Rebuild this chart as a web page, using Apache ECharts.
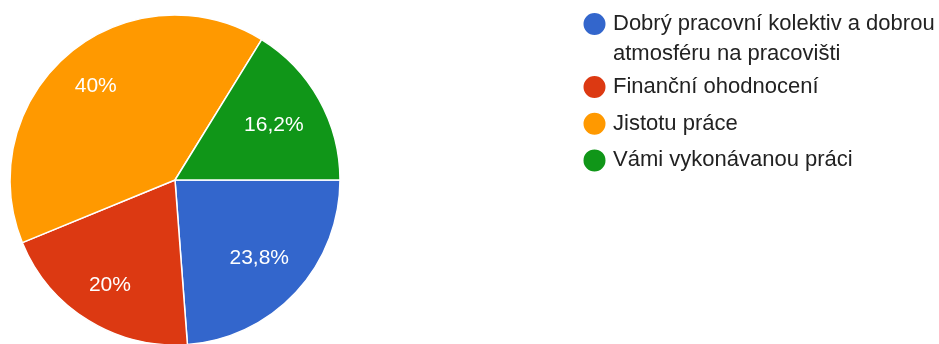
<!DOCTYPE html>
<html>
<head>
<meta charset="utf-8">
<script src="https://cdn.jsdelivr.net/npm/echarts@6/dist/echarts.min.js"></script>
<style>
  html, body { margin: 0; padding: 0; background: #ffffff; }
  #chart { width: 939px; height: 344px; }
</style>
</head>
<body>
<div id="chart"></div>
<script>
// Survey answers and their shares in percent
const categories = [
  'Dobrý pracovní kolektiv a dobrou atmosféru na pracovišti',
  'Finanční ohodnocení',
  'Jistotu práce',
  'Vámi vykonávanou práci'
];
const shares = [23.8, 20, 40, 16.2];
const palette = ['#3366cc', '#dc3912', '#ff9900', '#109618'];

const FONT = '"Liberation Sans", Arial, sans-serif';
const CX = 175, CY = 180, RADIUS = 165;
// labels sit on the slice bisector, pushed out until the outer corner of
// the text box reaches this radius
const LABEL_CORNER_R = 0.875 * RADIUS;

const pieData = categories.map((name, i) => ({ name, value: shares[i] }));
const pctLabel = p => String(p.value).replace('.', ',') + '%';

// mid angle of each slice (clockwise from 3 o'clock, screen coordinates)
const total = shares.reduce((a, b) => a + b, 0);
const midAngles = [];
shares.reduce((acc, v) => {
  midAngles.push((acc + v / 2) / total * Math.PI * 2);
  return acc + v;
}, 0);

function placeLabel(params) {
  const a = midAngles[params.dataIndex];
  const c = Math.cos(a), s = Math.sin(a);
  const w = params.labelRect.width, h = params.labelRect.height;
  const B = Math.abs(c) * w + Math.abs(s) * h;
  const C = (w * w + h * h) / 4 - LABEL_CORNER_R * LABEL_CORNER_R;
  const d = (-B + Math.sqrt(B * B - 4 * C)) / 2;
  return { x: CX + d * c, y: CY + d * s, align: 'center', verticalAlign: 'middle' };
}

const legendBase = {
  orient: 'vertical',
  left: 581.5,
  padding: 0,
  icon: 'circle',
  itemWidth: 27,
  itemHeight: 24,
  selectedMode: false
};

const chart = echarts.init(document.getElementById('chart'), null, { renderer: 'canvas' });
chart.setOption({
  animation: false,
  color: palette,
  legend: [
    Object.assign({}, legendBase, {
      // long entry wraps; the blank first line keeps the icon beside the first text line
      data: [categories[0]],
      formatter: name => '\n' + name,
      top: -21,
      textStyle: {
        fontFamily: FONT, fontSize: 22, color: '#222',
        width: 380, overflow: 'break', lineHeight: 30
      }
    }),
    Object.assign({}, legendBase, {
      data: categories.slice(1),
      top: 74,
      itemGap: 10.7,
      textStyle: { fontFamily: FONT, fontSize: 22, color: '#222', lineHeight: 22 }
    })
  ],
  series: [
    {
      type: 'pie',
      center: [CX, CY],
      radius: [0, RADIUS],
      startAngle: 0,
      clockwise: true,
      data: pieData,
      itemStyle: { borderColor: '#ffffff', borderWidth: 1.5 },
      label: {
        show: true, position: 'inside', formatter: pctLabel,
        color: '#ffffff', fontFamily: FONT, fontSize: 21
      },
      labelLine: { show: false },
      labelLayout: placeLabel,
      emphasis: { disabled: true }
    }
  ]
});
</script>
</body>
</html>
